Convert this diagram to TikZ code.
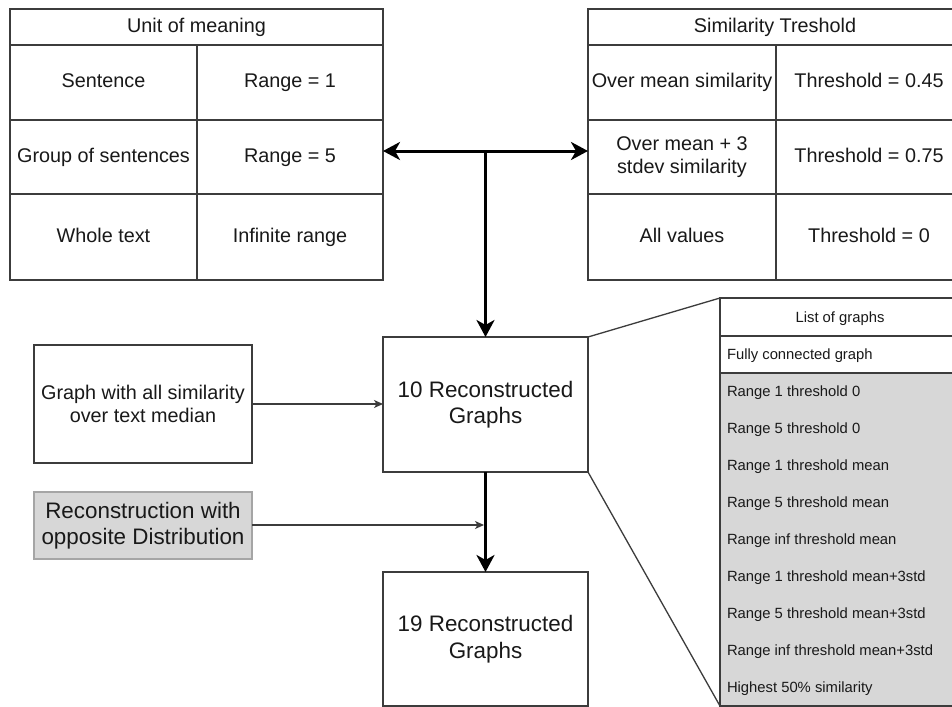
\documentclass[tikz,border=0pt]{standalone}
\usepackage{fontspec}
\setmainfont{Liberation Sans}
\usetikzlibrary{arrows.meta}
\definecolor{ln}{RGB}{60,60,60}
\definecolor{tx}{RGB}{25,25,25}
\definecolor{gr}{RGB}{215,215,215}
\definecolor{grb}{RGB}{165,165,165}
\begin{document}
\begin{tikzpicture}[x=1pt,y=-1pt,
  box/.style={draw=ln, line width=1.3pt, inner sep=0pt, outer sep=0pt, text=tx, align=center},
  tbl/.style={box, font=\fontsize{19.8}{23.5}\selectfont},
  one/.style={text height=14.3pt, text depth=4.2pt},
  big/.style={box, font=\fontsize{22.4}{26.5}\selectfont},
  lst/.style={inner sep=0pt, outer sep=0pt, text=tx, font=\fontsize{14.8}{17.5}\selectfont, text height=10.7pt, text depth=0pt},
  tarrow/.style={line width=3pt, black, -{Stealth[length=17pt,width=18pt,inset=5pt]}},
  darrow/.style={line width=3pt, black, {Stealth[length=17pt,width=18pt,inset=5pt]}-{Stealth[length=17pt,width=18pt,inset=5pt]}},
  narrow/.style={line width=1.3pt, ln, -{Stealth[length=9pt,width=8pt,inset=2.5pt]}},
  plain/.style={line width=1.3pt, ln}
]
\useasboundingbox (0,0) rectangle (952,706);
\fill[white] (0,0) rectangle (952,706);
\clip (0,0) rectangle (952,706);

% Unit of meaning table
\node[tbl, one, minimum width=373pt, minimum height=36pt] (uh) at (196.5,27) {Unit of meaning};
\node[tbl, one, minimum width=187pt, minimum height=75pt] (u1a) at (103.5,82.5) {Sentence};
\node[tbl, one, minimum width=186pt, minimum height=75pt] (u1b) at (290,82.5) {Range = 1};
\node[tbl, one, minimum width=187pt, minimum height=74pt] (u2a) at (103.5,157) {Group of sentences};
\node[tbl, one, minimum width=186pt, minimum height=74pt] (u2b) at (290,157) {Range = 5};
\node[tbl, one, minimum width=187pt, minimum height=86pt] (u3a) at (103.5,237) {Whole text};
\node[tbl, one, minimum width=186pt, minimum height=86pt] (u3b) at (290,237) {Infinite range};

% Similarity threshold table
\node[tbl, one, minimum width=374pt, minimum height=36pt] (sh) at (775,27) {Similarity Treshold};
\node[tbl, one, minimum width=188pt, minimum height=75pt] (s1a) at (682,82.5) {Over mean similarity};
\node[tbl, one, minimum width=186pt, minimum height=75pt] (s1b) at (869,82.5) {Threshold = 0.45};
\node[tbl, minimum width=188pt, minimum height=74pt] (s2a) at (682,157) {Over mean + 3\\stdev similarity};
\node[tbl, one, minimum width=186pt, minimum height=74pt] (s2b) at (869,157) {Threshold = 0.75};
\node[tbl, one, minimum width=188pt, minimum height=86pt] (s3a) at (682,237) {All values};
\node[tbl, one, minimum width=186pt, minimum height=86pt] (s3b) at (869,237) {Threshold = 0};

% Middle boxes
\node[big, minimum width=205pt, minimum height=135pt] (r10) at (485.5,404.5) {10 Reconstructed\\Graphs};
\node[big, minimum width=205pt, minimum height=134pt] (r19) at (485.5,639) {19 Reconstructed\\Graphs};
\node[tbl, minimum width=218pt, minimum height=118pt] (gm) at (143,404) {Graph with all similarity\\over text median};
\node[big, draw=grb, fill=gr, minimum width=218pt, minimum height=67pt] (od) at (143,525.5) {Reconstruction with\\opposite Distribution};

% List of graphs
\node[box, minimum width=240pt, minimum height=38pt] (lh) at (840,317) {};
\node[lst] (lht) at (840,317) {List of graphs};
\node[box, minimum width=240pt, minimum height=37pt] (lf) at (840,354.5) {};
\node[lst, anchor=west] (lft) at (727,354.5) {Fully connected graph};
\node[box, fill=gr, minimum width=240pt, minimum height=333pt] (lg) at (840,539.5) {};
\foreach \t [count=\i from 0] in {Range 1 threshold 0, Range 5 threshold 0, Range 1 threshold mean, Range 5 threshold mean, Range inf threshold mean, Range 1 threshold mean+3std, Range 5 threshold mean+3std, Range inf threshold mean+3std, Highest 50\% similarity}
  \node[lst, anchor=west] (l\i) at (727,391.5+37*\i) {\t};

% Connectors
\coordinate (t) at (485.5,151);
\draw[darrow] (u2b.east |- t) -- (s2a.west |- t);
\draw[tarrow] (t) -- (r10.north);
\draw[narrow] (gm.east) -- (r10.west |- gm.east);
\draw[tarrow] (r10.south) -- (r19.north);
\coordinate (j) at (485.5,525);
\draw[narrow] (od.east |- j) -- ([xshift=-1.5pt]j);
\draw[plain] (r10.north east) -- (lh.north west);
\draw[plain] (r10.south east) -- (lg.south west);
\end{tikzpicture}
\end{document}
